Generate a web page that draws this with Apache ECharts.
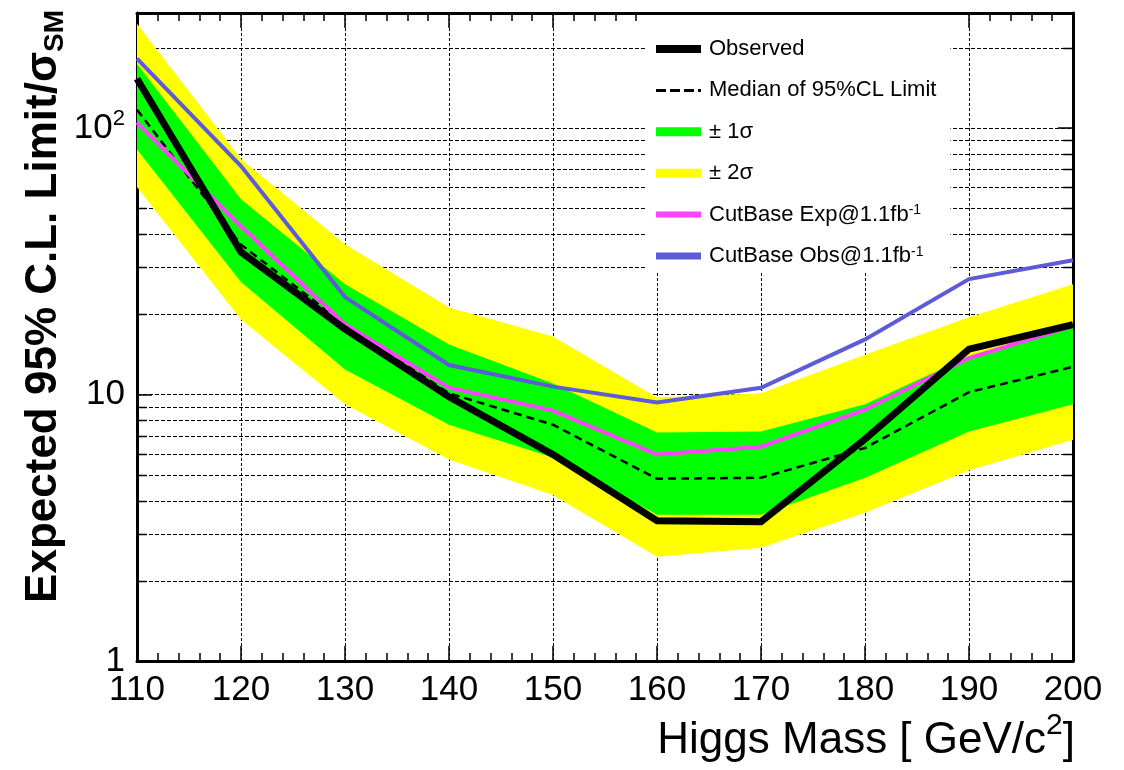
<!DOCTYPE html>
<html><head><meta charset="utf-8">
<script src="https://cdn.jsdelivr.net/npm/echarts@6/dist/echarts.min.js"></script>
<style>html,body{margin:0;padding:0;background:#fff}#c{width:1124px;height:770px}</style>
</head><body><div id="c"></div>
<script>
// ---- data ----
const masses   = [110, 120, 130, 140, 150, 160, 170, 180, 190, 200];
const observed = [153, 34.2, 17.6, 9.8, 5.95, 3.36, 3.33, 6.8, 14.8, 18.3];
const median   = [117, 36.5, 18.3, 10.1, 7.7, 4.83, 4.87, 6.3, 10.2, 12.7];
const band1Hi  = [174, 54, 25.9, 15.4, 11.0, 7.2, 7.26, 9.2, 13.9, 17.9];
const band1Lo  = [83, 26.4, 12.4, 7.7, 5.8, 3.54, 3.54, 4.87, 7.26, 9.2];
const band2Hi  = [246, 76.5, 36.6, 21.2, 16.5, 9.75, 10.1, 14.1, 19.5, 25.9];
const band2Lo  = [60, 19.1, 9.2, 5.7, 4.2, 2.46, 2.66, 3.6, 5.2, 6.77];
const cutExp   = [105, 42.8, 18.3, 10.6, 8.7, 5.95, 6.37, 8.77, 13.7, 18.1];
const cutObs   = [182, 72, 23.2, 12.9, 10.7, 9.33, 10.6, 16.1, 27.1, 31.9];
const minorGridValues = [2, 3, 4, 5, 6, 7, 8, 9, 20, 30, 40, 50, 60, 70, 80, 90, 200];
const xMin = 110, xMax = 200, xStep = 10;
const yMin = 1, yMax = 270;
const legendNames = ['Observed', 'Median of 95%CL Limit', '± 1σ', '± 2σ',
  'CutBase Exp@1.1fb-1', 'CutBase Obs@1.1fb-1'];

const FONT = "'Liberation Sans', Arial, Helvetica, sans-serif";
const C_YEL = '#ffff00', C_GRN = '#00ff00', C_MAG = '#ff44ff', C_BLU = '#5c5cd8';

const pairs = arr => masses.map((m, i) => [m, arr[i]]);

function bandSeries(name, hi, lo, color, z) {
  return {
    type: 'custom', name, z, silent: true,
    data: masses.map((m, i) => [m, hi[i], lo[i]]),
    encode: { x: 0, y: [1, 2] },
    itemStyle: { color },
    renderItem(params, api) {
      if (params.dataIndex !== 0) return null;
      const pts = [];
      for (let i = 0; i < masses.length; i++) pts.push(api.coord([masses[i], hi[i]]));
      for (let i = masses.length - 1; i >= 0; i--) pts.push(api.coord([masses[i], lo[i]]));
      return { type: 'polygon', shape: { points: pts }, style: { fill: color } };
    }
  };
}

const gridSeries = {
  type: 'custom', name: 'minorGrid', z: 1, silent: true,
  data: minorGridValues.map(v => [xMin, v]),
  encode: { x: 0, y: 1 },
  renderItem(params, api) {
    const v = api.value(1);
    const a = api.coord([xMin, v]), b = api.coord([xMax, v]);
    const y = Math.round(a[1]) + 0.5;
    return { type: 'group', children: [
      { type: 'line', shape: { x1: a[0], y1: y, x2: b[0], y2: y },
        style: { stroke: '#000', lineWidth: 1, lineDash: [4, 2] } },
      { type: 'line', shape: { x1: a[0], y1: y, x2: a[0] + 10, y2: y },
        style: { stroke: '#000', lineWidth: 1.5 } },
      { type: 'line', shape: { x1: b[0] - 10, y1: y, x2: b[0], y2: y },
        style: { stroke: '#000', lineWidth: 1.5 } }
    ] };
  }
};

function lineSeries(name, arr, color, width, type, z) {
  return {
    type: 'line', name, z, silent: true, symbol: 'none',
    data: pairs(arr),
    itemStyle: { color },
    lineStyle: { color, width, type, join: 'miter' }
  };
}

const icons = {
  solid8: 'path://M0,0H45V8H0Z',
  dash: 'path://M0,0H10V3H0Z M14,0H24V3H14Z M28,0H38V3H28Z M42,0H45V3H42Z',
  rect9: 'path://M0,0H45V9H0Z',
  line6: 'path://M0,0H45V6H0Z',
  line7: 'path://M0,0H45V7H0Z'
};

const chart = echarts.init(document.getElementById('c'), null, { renderer: 'canvas' });
const axisLineStyle = { color: '#000', width: 3 };
chart.setOption({
  animation: false,
  backgroundColor: '#fff',
  grid: { left: 137, right: 51, top: 13, bottom: 109, containLabel: false },
  xAxis: [{
    type: 'value', min: xMin, max: xMax, interval: xStep, position: 'bottom',
    axisLine: { show: true, lineStyle: axisLineStyle },
    axisTick: { show: true, inside: true, length: 15, lineStyle: { color: '#000', width: 1.5 } },
    minorTick: { show: true, splitNumber: 5, length: 8, lineStyle: { color: '#000', width: 1.5 } },
    axisLabel: { fontFamily: FONT, fontSize: 35, color: '#000', margin: 12 },
    splitLine: { show: true, lineStyle: { color: '#000', width: 1, type: [3, 2] } },
    name: '{a|Higgs Mass [ GeV/c}{s|2}{a|]}',
    nameLocation: 'end', nameGap: 2,
    nameTextStyle: {
      align: 'right', verticalAlign: 'top', padding: [50, 0, 0, 0],
      rich: {
        a: { fontFamily: FONT, fontSize: 44, color: '#000', lineHeight: 60 },
        s: { fontFamily: FONT, fontSize: 30, color: '#000', lineHeight: 30, verticalAlign: 'top' }
      }
    }
  }, {
    type: 'value', min: xMin, max: xMax, interval: xStep, position: 'top',
    axisLine: { show: true, lineStyle: axisLineStyle },
    axisTick: { show: true, inside: true, length: 15, lineStyle: { color: '#000', width: 1.5 } },
    minorTick: { show: true, splitNumber: 5, length: 8, lineStyle: { color: '#000', width: 1.5 } },
    axisLabel: { show: false }, splitLine: { show: false }
  }],
  yAxis: [{
    type: 'log', logBase: 10, min: yMin, max: yMax, position: 'left',
    axisLine: { show: true, lineStyle: axisLineStyle },
    axisTick: { show: true, inside: true, length: 15, lineStyle: { color: '#000', width: 1.5 } },
    axisLabel: {
      fontFamily: FONT, fontSize: 35, color: '#000', margin: 12,
      formatter(v) {
        const p = Math.log10(v);
        if (Math.abs(p - Math.round(p)) > 1e-6) return '';
        const e = Math.round(p);
        if (e === 0) return '1';
        if (e === 1) return '10';
        return '{b|10}{p|' + e + '}';
      },
      rich: {
        b: { fontFamily: FONT, fontSize: 35, color: '#000', lineHeight: 40 },
        p: { fontFamily: FONT, fontSize: 22, color: '#000', lineHeight: 22, verticalAlign: 'top' }
      }
    },
    splitLine: { show: true, lineStyle: { color: '#000', width: 1, type: [4, 2] } },
    name: '{t|Expected 95% C.L. Limit/σ}{s|SM}',
    nameLocation: 'end', nameRotate: 90, nameGap: 3,
    nameTextStyle: {
      align: 'right', verticalAlign: 'bottom', padding: [0, 0, 68, 0],
      rich: {
        t: { fontFamily: FONT, fontSize: 44, fontWeight: 'bold', color: '#000', lineHeight: 50 },
        s: { fontFamily: FONT, fontSize: 28, fontWeight: 'bold', color: '#000', lineHeight: 28, verticalAlign: 'bottom' }
      }
    }
  }, {
    type: 'log', logBase: 10, min: yMin, max: yMax, position: 'right',
    axisLine: { show: true, lineStyle: axisLineStyle },
    axisTick: { show: true, inside: true, length: 15, lineStyle: { color: '#000', width: 1.5 } },
    axisLabel: { show: false }, splitLine: { show: false }
  }],
  legend: {
    orient: 'vertical', left: 645, top: 15,
    padding: [23, 14, 6, 11], itemGap: 19.4, itemWidth: 45, itemHeight: 16,
    backgroundColor: '#fff', selectedMode: false,
    itemStyle: { borderWidth: 0 },
    textStyle: {
      fontFamily: FONT, fontSize: 22, color: '#000', lineHeight: 22, padding: [0, 0, 0, 3],
      rich: {
        n: { fontFamily: FONT, fontSize: 22, color: '#000', lineHeight: 22 },
        sup: { fontFamily: FONT, fontSize: 14, color: '#000', lineHeight: 14, verticalAlign: 'top' }
      }
    },
    formatter(name) {
      const m = name.match(/^(.*fb)(-1)$/);
      return m ? '{n|' + m[1] + '}{sup|' + m[2] + '}' : name;
    },
    data: [
      { name: legendNames[0], icon: icons.solid8, itemStyle: { color: '#000' } },
      { name: legendNames[1], icon: icons.dash, itemStyle: { color: '#000' } },
      { name: legendNames[2], icon: icons.rect9, itemStyle: { color: C_GRN } },
      { name: legendNames[3], icon: icons.rect9, itemStyle: { color: C_YEL } },
      { name: legendNames[4], icon: icons.line6, itemStyle: { color: C_MAG } },
      { name: legendNames[5], icon: icons.line7, itemStyle: { color: C_BLU } }
    ]
  },
  series: [
    gridSeries,
    bandSeries(legendNames[3], band2Hi, band2Lo, C_YEL, 2),
    bandSeries(legendNames[2], band1Hi, band1Lo, C_GRN, 3),
    lineSeries(legendNames[1], median, '#000', 2.5, [8, 5], 4),
    lineSeries(legendNames[4], cutExp, C_MAG, 4, 'solid', 5),
    lineSeries(legendNames[5], cutObs, C_BLU, 4, 'solid', 6),
    lineSeries(legendNames[0], observed, '#000', 7, 'solid', 7)
  ]
});
</script>
</body></html>
